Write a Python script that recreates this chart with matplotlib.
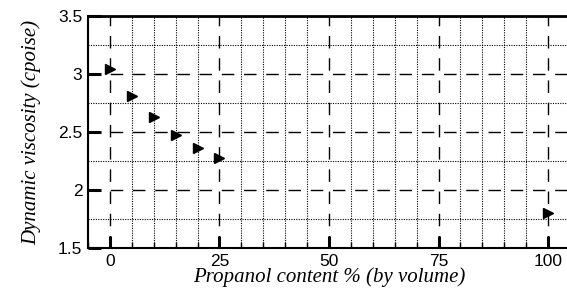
import matplotlib
matplotlib.use("Agg")
import matplotlib.pyplot as plt
from matplotlib.ticker import MultipleLocator

# propanol content (% by volume) and measured viscosity (cpoise)
propanol = [0, 5, 10, 15, 20, 25, 100]
viscosity = [3.04, 2.81, 2.63, 2.47, 2.36, 2.28, 1.80]

x_ticks = [0, 25, 50, 75, 100]
y_ticks = [1.5, 2, 2.5, 3, 3.5]

fig = plt.figure(figsize=(5.67, 2.91), dpi=100)
ax = fig.add_axes([0.1552, 0.1478, 0.85, 0.7972])

ax.plot(propanol, viscosity, linestyle="none", marker=">", color="black",
        markersize=7, zorder=5, clip_on=False)

ax.set_xlim(-5, 105)
ax.set_ylim(1.5, 3.5)
ax.set_xticks(x_ticks)
ax.set_yticks(y_ticks)
ax.set_yticklabels(["1.5", "2", "2.5", "3", "3.5"])
ax.xaxis.set_minor_locator(MultipleLocator(5))
ax.yaxis.set_minor_locator(MultipleLocator(0.25))

# grid: dashed on majors, dotted on minors
ax.grid(which="major", color="black", linestyle=(0, (9, 7)), linewidth=1.0)
ax.grid(which="minor", color="black", linestyle=(0, (1, 1.2)), linewidth=0.8)
ax.set_axisbelow(True)

ax.tick_params(which="major", direction="in", length=9, width=2.2,
               labelsize=12.5, pad=4)
ax.tick_params(which="minor", direction="in", length=4, width=1)
ax.tick_params(axis="y", which="minor", length=0)
ax.tick_params(top=False, right=False)

for lab in ax.get_xticklabels() + ax.get_yticklabels():
    lab.set_family("Liberation Sans")

ax.spines["right"].set_visible(False)
ax.spines["top"].set_linewidth(2)
ax.spines["left"].set_linewidth(1.5)
ax.spines["bottom"].set_linewidth(1.5)

ax.set_xlabel("Propanol content % (by volume)", family="Liberation Serif",
              style="italic", fontsize=15, labelpad=-1)
ax.set_ylabel("Dynamic viscosity (cpoise)", family="Liberation Serif",
              style="italic", fontsize=15, labelpad=12)

fig.savefig("out.png", dpi=100)
